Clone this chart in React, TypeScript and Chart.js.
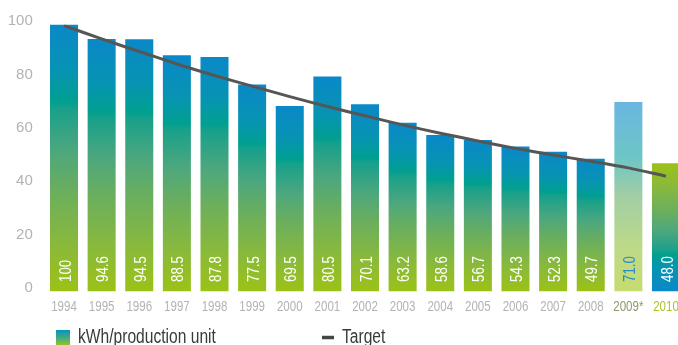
import React, { useEffect, useRef } from "react";
import { Chart, registerables } from "chart.js";

Chart.register(...registerables);

const categories = ["1994","1995","1996","1997","1998","1999","2000","2001","2002","2003","2004","2005","2006","2007","2008","2009*","2010"];
const kwhValues = [100, 94.6, 94.5, 88.5, 87.8, 77.5, 69.5, 80.5, 70.1, 63.2, 58.6, 56.7, 54.3, 52.3, 49.7, 71.0, 48.0];
const targetValues = [99.6, 94.6, 89.9, 85.2, 80.9, 76.9, 73.0, 69.3, 65.8, 62.4, 59.3, 56.4, 53.6, 51.1, 48.8, 46.3, 43.2];
const yTicks = [0, 20, 40, 60, 80, 100];

const FONT = "'Liberation Sans', Arial, sans-serif";

const STOPS: [number, string][] = [
  [0, "#0a88c8"], [0.18, "#0794b2"], [0.29, "#00a08f"], [0.31, "#16a08b"],
  [0.47, "#4ca77e"], [0.62, "#6aae5e"], [0.8, "#86b840"], [1, "#9cc216"],
];
const FORECAST_STOPS: [number, string][] = [
  [0, "#6ab6e2"], [0.3, "#6ec6c4"], [0.5, "#a2cea4"], [0.75, "#bcd98a"], [1, "#c6dc70"],
];
const INVERT_STOPS: [number, string][] = STOPS.map(([o, c]) => [1 - o, c] as [number, string]).reverse();

function stopsFor(cat: string) {
  if (cat.endsWith("*")) return FORECAST_STOPS;
  if (cat === categories[categories.length - 1]) return INVERT_STOPS;
  return STOPS;
}

function barColor(c: any) {
  const chart = c.chart;
  if (!chart.chartArea || c.type !== "data") return STOPS[0][1];
  const y = chart.scales.y;
  const top = y.getPixelForValue(c.raw);
  const base = y.getPixelForValue(0);
  const g = chart.ctx.createLinearGradient(0, top, 0, base);
  stopsFor(categories[c.dataIndex]).forEach(([o, col]) => g.addColorStop(o, col));
  return g;
}

function fmt(v: number) {
  return v >= 100 ? String(v) : v.toFixed(1);
}

function tickColor(i: number) {
  const cat = categories[i];
  if (cat.endsWith("*")) return "#8b9a6c";
  if (i === categories.length - 1) return "#a9c52a";
  return "#b3b3b3";
}

const valueLabels = {
  id: "valueLabels",
  afterDatasetsDraw(chart: any) {
    const meta = chart.getDatasetMeta(1);
    const ctx = chart.ctx;
    const base = chart.scales.y.getPixelForValue(0);
    ctx.save();
    ctx.font = `16px ${FONT}`;
    meta.data.forEach((bar: any, i: number) => {
      ctx.save();
      ctx.translate(bar.x, base - 9.5);
      ctx.rotate(-Math.PI / 2);
      ctx.scale(0.83, 1);
      ctx.textAlign = "left";
      ctx.textBaseline = "alphabetic";
      ctx.fillStyle = categories[i].endsWith("*") ? "#2a8bc9" : "#ffffff";
      ctx.fillText(fmt(kwhValues[i]), 0, 6.6);
      ctx.restore();
    });
    ctx.restore();
  },
};

const xLabels = {
  id: "xLabels",
  afterDraw(chart: any) {
    const ctx = chart.ctx;
    const xs = chart.scales.x;
    const yPos = chart.chartArea.bottom + 15.5;
    ctx.save();
    ctx.font = `15px ${FONT}`;
    ctx.textAlign = "center";
    ctx.textBaseline = "middle";
    categories.forEach((cat, i) => {
      const x = xs.getPixelForTick(i);
      ctx.save();
      ctx.translate(x, yPos);
      ctx.scale(0.77, 1);
      ctx.fillStyle = tickColor(i);
      ctx.fillText(cat, 0, 0);
      ctx.restore();
    });
    ctx.restore();
  },
};

const customLegend = {
  id: "customLegend",
  afterDraw(chart: any) {
    const ctx = chart.ctx;
    ctx.save();
    const g = ctx.createLinearGradient(0, 330, 0, 346);
    g.addColorStop(0, "#0a92bd");
    g.addColorStop(0.45, "#3aa98a");
    g.addColorStop(1, "#a2c41a");
    ctx.fillStyle = g;
    ctx.fillRect(56, 330, 14, 16);
    ctx.font = `19.5px ${FONT}`;
    ctx.fillStyle = "#3a3a3a";
    ctx.textBaseline = "alphabetic";
    ctx.textAlign = "left";
    ctx.save();
    ctx.translate(78, 343);
    ctx.scale(0.8, 1);
    ctx.fillText("kWh/production unit", 0, 0);
    ctx.restore();
    ctx.strokeStyle = "#454545";
    ctx.lineWidth = 3.5;
    ctx.beginPath();
    ctx.moveTo(322, 337.5);
    ctx.lineTo(334, 337.5);
    ctx.stroke();
    ctx.save();
    ctx.translate(342, 343);
    ctx.scale(0.8, 1);
    ctx.fillText("Target", 0, 0);
    ctx.restore();
    ctx.restore();
  },
};

export default function App() {
  const ref = useRef<HTMLCanvasElement | null>(null);
  useEffect(() => {
    if (!ref.current) return;
    const chart = new Chart(ref.current, {
      type: "bar",
      data: {
        labels: categories,
        datasets: [
          {
            type: "line" as any,
            label: "Target",
            data: targetValues,
            borderColor: "#565656",
            borderWidth: 3,
            pointRadius: 0,
            tension: 0.3,
            fill: false,
            order: 0,
          } as any,
          {
            type: "bar",
            label: "kWh/production unit",
            data: kwhValues,
            backgroundColor: barColor as any,
            barPercentage: 0.745,
            categoryPercentage: 1,
            order: 1,
          },
        ],
      },
      options: {
        responsive: false,
        animation: false,
        devicePixelRatio: 1,
        layout: { padding: { top: 24.5, right: 15.2, bottom: 23.5, left: 0 } },
        plugins: { legend: { display: false }, tooltip: { enabled: false } },
        scales: {
          x: {
            grid: { display: false, drawTicks: false },
            border: { display: false },
            afterFit: (axis: any) => { axis.height = 30; },
            ticks: { display: false, autoSkip: false, maxRotation: 0 },
          },
          y: {
            min: yTicks[0],
            max: yTicks[yTicks.length - 1],
            grid: { display: false, drawTicks: false },
            border: { display: false },
            afterFit: (axis: any) => { axis.width = 45.2; },
            afterBuildTicks: (axis: any) => { axis.ticks = yTicks.map((v) => ({ value: v })); },
            ticks: {
              padding: 12.4,
              labelOffset: -3.5,
              font: { family: FONT, size: 15 },
              color: "#b3b3b3",
            },
          },
        },
      },
      plugins: [valueLabels, xLabels, customLegend],
    });
    return () => chart.destroy();
  }, []);
  return (
    <div style={{ position: "fixed", left: 0, top: 0, width: 678, height: 345, overflow: "hidden", background: "#fff" }}>
      <canvas ref={ref} width={700} height={345} style={{ display: "block", width: 700, height: 345 }} />
    </div>
  );
}
